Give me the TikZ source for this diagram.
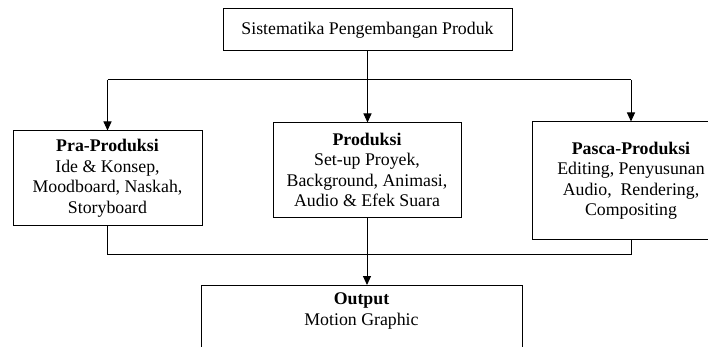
\documentclass[tikz,border=0pt]{standalone}
\usepackage{fontspec}
\setmainfont{Liberation Serif}
\usetikzlibrary{arrows.meta}
\begin{document}
\begin{tikzpicture}[x=1pt,y=-1pt,
  box/.style={draw, line width=1pt, align=center, inner sep=0pt,
    font=\fontsize{17.8}{20.5}\selectfont},
  arr/.style={-{Triangle[width=8pt,length=9pt]}, line width=1pt},
  conn/.style={line width=1pt}]
\useasboundingbox (0,0) rectangle (708,347);
\clip (0,0) rectangle (708,347);
\node[box, minimum width=289pt, minimum height=42pt] (top) at (367.5,30) {Sistematika Pengembangan Produk};
\node[box, minimum width=189pt, minimum height=94pt] (pra) at (107.5,178) {\textbf{Pra-Produksi}\\Ide \& Konsep,\\Moodboard, Naskah,\\Storyboard};
\node[box, minimum width=188pt, minimum height=94pt] (prod) at (367,170) {\textbf{Produksi}\\Set-up Proyek,\\Background, Animasi,\\Audio \& Efek Suara};
\node[box, minimum width=198pt, minimum height=117pt] (pasca) at (631,180.5) {\textbf{Pasca-Produksi}\\Editing, Penyusunan\\Audio,\ \ Rendering,\\Compositing};
\node[draw, line width=1pt, inner sep=0pt, anchor=north, font=\fontsize{17.8}{20.5}\selectfont] (out) at (361.5,285)
  {\parbox[c][80pt][t]{321pt}{\centering\vspace*{7.5pt}\textbf{Output}\\Motion Graphic\par}};
\coordinate (jt) at (367,80);
\coordinate (jb) at (367,254);
% top distribution
\draw[arr] (top.south) -- (top.south |- prod.north);
\draw[conn] (pra.north |- jt) -- (pasca.north |- jt);
\draw[arr] (pra.north |- jt) -- (pra.north);
\draw[arr] (pasca.north |- jt) -- (pasca.north);
% bottom collection
\draw[conn] (pra.south) -- (pra.south |- jb) -- (pasca.south |- jb) -- (pasca.south);
\draw[arr] (prod.south) -- (prod.south |- out.north);
\end{tikzpicture}
\end{document}
